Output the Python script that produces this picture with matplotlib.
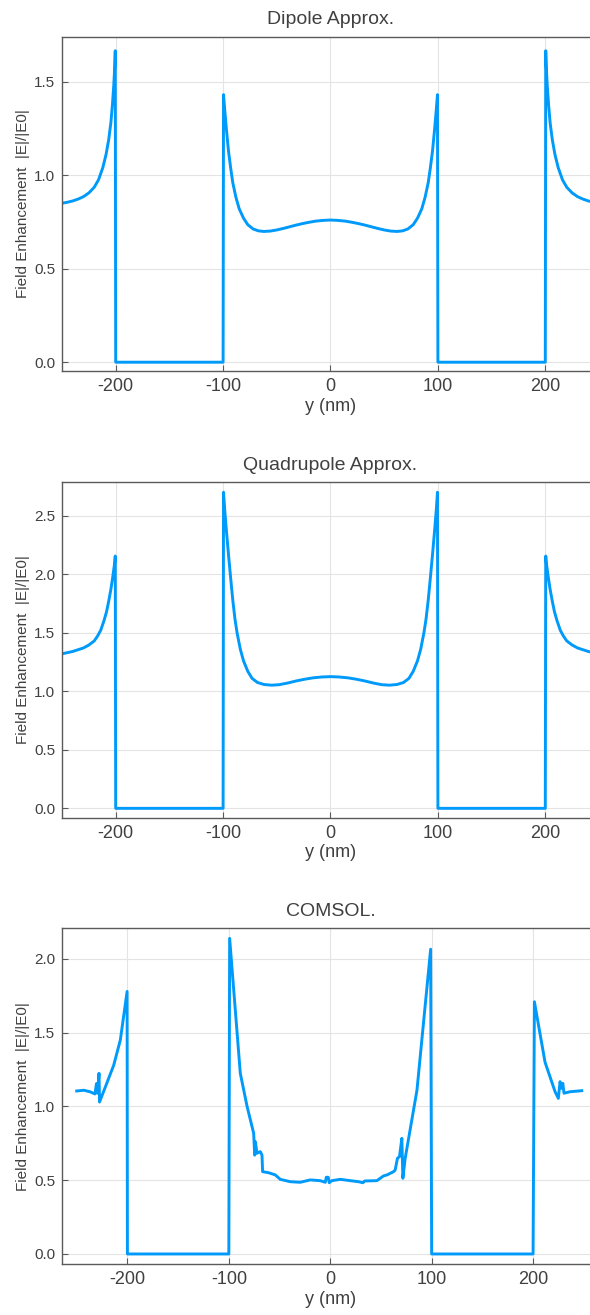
import matplotlib
matplotlib.use("Agg")
import matplotlib.pyplot as plt
from matplotlib.ticker import FixedLocator, FormatStrFormatter

# ---------------- data ----------------
titles = ["Dipole Approx.", "Quadrupole Approx.", "COMSOL."]
xlabel = "y (nm)"
ylabel = "Field Enhancement  |E|/|E0|"
xticks = [-200, -100, 0, 100, 200]

dip_x = [-250, -245, -240, -235, -230, -225, -220, -216, -212, -209, -206.5, -204.5,
         -203, -201.8, -200.9, -200.4, -200, -100,
         -99.6, -98.5, -97, -95, -93, -91, -88, -85, -81, -77, -72, -67, -62, -56,
         -50, -44, -38, -32, -26, -20, -14, -7, 0,
         7, 14, 20, 26, 32, 38, 44, 50, 56, 62, 67, 72, 77, 81, 85, 88, 91, 93,
         95, 97, 98.5, 99.6, 100, 200,
         200.4, 200.9, 201.8, 203, 204.5, 206.5, 209, 212, 216, 220, 225, 230,
         235, 240, 245, 250]
dip_y = [0.850, 0.855, 0.862, 0.872, 0.885, 0.905, 0.935, 0.975, 1.04, 1.11, 1.19, 1.28,
         1.38, 1.48, 1.58, 1.665, 0.0, 0.0,
         1.43, 1.35, 1.25, 1.13, 1.04, 0.96, 0.88, 0.82, 0.77, 0.735, 0.712, 0.702, 0.699, 0.701,
         0.707, 0.715, 0.724, 0.733, 0.741, 0.748, 0.754, 0.758, 0.760,
         0.758, 0.754, 0.748, 0.741, 0.733, 0.724, 0.715, 0.707, 0.701, 0.699, 0.702, 0.712,
         0.735, 0.77, 0.82, 0.88, 0.96, 1.04,
         1.13, 1.25, 1.35, 1.43, 0.0, 0.0,
         1.665, 1.58, 1.48, 1.38, 1.28, 1.19, 1.11, 1.04, 0.975, 0.935, 0.905, 0.885,
         0.872, 0.862, 0.855, 0.850]

quad_x = [-250, -245, -240, -235, -230, -225, -220, -217, -214, -211, -208.5, -206.5,
          -204.5, -203, -201.8, -200.9, -200.4, -200, -100,
          -99.6, -98.5, -97, -95, -93, -91, -89, -87, -84, -81, -77, -73, -68, -62, -55,
          -48, -40, -32, -24, -16, -8, 0,
          8, 16, 24, 32, 40, 48, 55, 62, 68, 73, 77, 81, 84, 87, 89, 91, 93, 95, 97,
          98.5, 99.6, 100, 200,
          200.4, 200.9, 201.8, 203, 204.5, 206.5, 208.5, 211, 214, 217, 220, 225, 230,
          235, 240, 245, 250]
quad_y = [1.32, 1.33, 1.34, 1.355, 1.37, 1.395, 1.43, 1.47, 1.52, 1.60, 1.68, 1.77,
          1.87, 1.96, 2.04, 2.10, 2.155, 0.0, 0.0,
          2.70, 2.55, 2.38, 2.17, 1.97, 1.78, 1.62, 1.50, 1.36, 1.26, 1.17, 1.11, 1.075,
          1.058, 1.052, 1.056, 1.07, 1.088, 1.103, 1.115, 1.122, 1.125,
          1.122, 1.115, 1.103, 1.088, 1.07, 1.056, 1.052, 1.058, 1.075, 1.11, 1.17, 1.26,
          1.36, 1.50, 1.62, 1.78, 1.97, 2.17, 2.38,
          2.55, 2.70, 0.0, 0.0,
          2.155, 2.10, 2.04, 1.96, 1.87, 1.77, 1.68, 1.60, 1.52, 1.47, 1.43, 1.395, 1.37,
          1.355, 1.34, 1.33, 1.32]

com_x = [-250, -243, -237, -232, -230.5, -229.5, -228, -227.5, -223, -213.5, -207,
         -200.3, -200, -100, -99.2, -88.7, -82, -75.5, -74.5, -73.9, -72.2, -69, -67.3,
         -66.7, -60.8, -54.2, -49.3, -39.4, -29.6, -19.7, -9.9, -4.9, -3.9, -2, -1, 1.6,
         9.9, 19.7, 27.9, 32.2, 34, 46, 52.5, 56, 62.4, 64, 66.3, 68.3, 70.6, 71.6, 73.9,
         85.5, 99, 100, 200, 201.3, 211.8, 221.7, 224.9, 226.6, 228.3, 229.3, 230.5,
         236.5, 248]
com_y = [1.105, 1.11, 1.10, 1.085, 1.155, 1.09, 1.225, 1.03, 1.11, 1.28, 1.45,
         1.78, 0.0, 0.0, 2.14, 1.225, 1.00, 0.818, 0.67, 0.761, 0.683, 0.694, 0.67,
         0.558, 0.551, 0.536, 0.506, 0.49, 0.486, 0.502, 0.497, 0.486, 0.52, 0.52, 0.483, 0.497,
         0.506, 0.497, 0.49, 0.483, 0.495, 0.497, 0.529, 0.536, 0.558, 0.569, 0.649, 0.66,
         0.784, 0.513, 0.649,
         1.11, 2.066, 0.0, 0.0, 1.71, 1.30, 1.10, 1.055, 1.168, 1.123, 1.157, 1.09,
         1.10, 1.107]

series = [(dip_x, dip_y), (quad_x, quad_y), (com_x, com_y)]
yticks = [[0, 0.5, 1.0, 1.5], [0, 0.5, 1.0, 1.5, 2.0, 2.5], [0, 0.5, 1.0, 1.5, 2.0]]
xlims = [(-250, 250), (-250, 250), (-264.5, 265)]
ylims = [(-0.047, 1.74), (-0.08, 2.785), (-0.068, 2.208)]

# ---------------- style ----------------
plt.rcParams["font.family"] = ["Liberation Sans", "DejaVu Sans"]
LINE = "#009AFA"
TXT = "#404040"
W, H = 590, 1315
panels_px = [(36.7, 371.0), (482.3, 817.7), (928.3, 1264.0)]
left_px, right_px = 62.0, 599.0

fig = plt.figure(figsize=(W / 100, H / 100), dpi=100)
fig.patch.set_facecolor("white")

for i, (top, bot) in enumerate(panels_px):
    ax = fig.add_axes([left_px / W, 1 - bot / H, (right_px - left_px) / W, (bot - top) / H])
    x, y = series[i]
    ax.plot(x, y, color=LINE, lw=2.1, solid_joinstyle="round")
    ax.set_xlim(*xlims[i])
    ax.set_ylim(*ylims[i])
    ax.xaxis.set_major_locator(FixedLocator(xticks))
    ax.yaxis.set_major_locator(FixedLocator(yticks[i]))
    ax.yaxis.set_major_formatter(FormatStrFormatter("%.1f"))
    ax.xaxis.set_major_formatter(FormatStrFormatter("%d"))
    ax.grid(True, color="#e4e4e4", lw=0.8)
    ax.set_axisbelow(True)
    for s in ax.spines.values():
        s.set_color("#5a5a5a")
        s.set_linewidth(1.0)
    ax.tick_params(axis="x", direction="in", length=4, width=0.8, color="#5a5a5a",
                   labelsize=13, labelcolor=TXT, pad=5, top=False)
    ax.tick_params(axis="y", direction="in", length=4, width=0.8, color="#5a5a5a",
                   labelsize=11, labelcolor=TXT, pad=5, right=False)
    ax.set_title(titles[i], fontsize=14, color=TXT, pad=9)
    ax.set_xlabel(xlabel, fontsize=13, color=TXT, labelpad=2)
    ax.set_ylabel(ylabel, fontsize=11, color=TXT, labelpad=3)

fig.savefig("out.png", dpi=100, facecolor="white")
